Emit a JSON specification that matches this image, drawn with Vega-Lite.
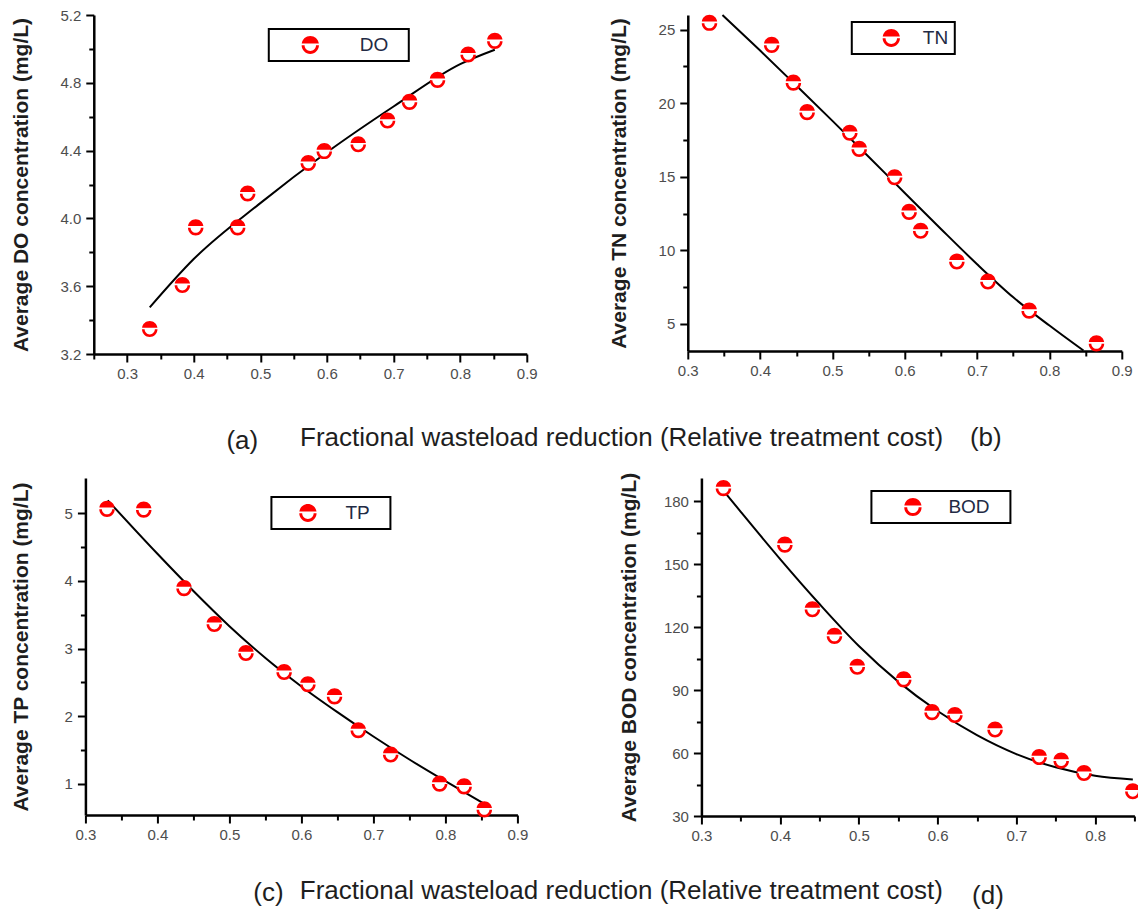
{
  "$schema": "https://vega.github.io/schema/vega-lite/v6.json",
  "padding": {"left": 10, "top": 8, "right": 0, "bottom": 0},
  "background": "#ffffff",
  "config": {
    "view": {"stroke": null},
    "font": "Liberation Sans",
    "axis": {
      "grid": false,
      "domainColor": "#000000",
      "domainWidth": 2.5,
      "tickColor": "#000000",
      "tickWidth": 2,
      "labelColor": "#4d4d4d",
      "labelFont": "Liberation Sans",
      "labelFontSize": 15,
      "labelOverlap": false,
      "labelFlush": false,
      "labelBound": false,
      "titleFont": "Liberation Sans",
      "titleFontSize": 21,
      "titleFontWeight": "bold",
      "titleColor": "#1e1e1e"
    },
    "legend": {"strokeWidth": 2},
    "title": {"font": "Liberation Sans", "fontWeight": "normal", "color": "#1e1e1e"}
  },
  "datasets": {
    "do_pts": [
      {"series": "DO", "x": 0.334, "y": 3.35}, {"series": "DO", "x": 0.383, "y": 3.61}, {"series": "DO", "x": 0.403, "y": 3.95},
      {"series": "DO", "x": 0.466, "y": 3.95}, {"series": "DO", "x": 0.481, "y": 4.15}, {"series": "DO", "x": 0.572, "y": 4.33},
      {"series": "DO", "x": 0.596, "y": 4.40}, {"series": "DO", "x": 0.647, "y": 4.44}, {"series": "DO", "x": 0.691, "y": 4.58},
      {"series": "DO", "x": 0.724, "y": 4.69}, {"series": "DO", "x": 0.766, "y": 4.82}, {"series": "DO", "x": 0.812, "y": 4.97},
      {"series": "DO", "x": 0.852, "y": 5.05}
    ],
    "do_fit": [
      {"x": 0.334, "y": 3.475}, {"x": 0.4, "y": 3.76}, {"x": 0.5, "y": 4.09}, {"x": 0.6, "y": 4.39},
      {"x": 0.7, "y": 4.66}, {"x": 0.8, "y": 4.91}, {"x": 0.852, "y": 4.995}
    ],
    "tn_pts": [
      {"series": "TN", "x": 0.330, "y": 25.5}, {"series": "TN", "x": 0.416, "y": 24.0}, {"series": "TN", "x": 0.446, "y": 21.43},
      {"series": "TN", "x": 0.465, "y": 19.43}, {"series": "TN", "x": 0.524, "y": 18.02}, {"series": "TN", "x": 0.537, "y": 16.93},
      {"series": "TN", "x": 0.586, "y": 15.0}, {"series": "TN", "x": 0.606, "y": 12.64}, {"series": "TN", "x": 0.622, "y": 11.36},
      {"series": "TN", "x": 0.672, "y": 9.27}, {"series": "TN", "x": 0.715, "y": 7.91}, {"series": "TN", "x": 0.772, "y": 5.93},
      {"series": "TN", "x": 0.865, "y": 3.70}
    ],
    "tn_fit": [
      {"x": 0.348, "y": 26.0}, {"x": 0.4, "y": 23.58}, {"x": 0.45, "y": 21.2}, {"x": 0.5, "y": 18.8},
      {"x": 0.55, "y": 16.36}, {"x": 0.6, "y": 13.9}, {"x": 0.65, "y": 11.45}, {"x": 0.7, "y": 9.05},
      {"x": 0.75, "y": 6.8}, {"x": 0.8, "y": 4.88}, {"x": 0.847, "y": 3.18}
    ],
    "tp_pts": [
      {"series": "TP", "x": 0.330, "y": 5.07}, {"series": "TP", "x": 0.381, "y": 5.06}, {"series": "TP", "x": 0.437, "y": 3.90},
      {"series": "TP", "x": 0.479, "y": 3.37}, {"series": "TP", "x": 0.523, "y": 2.94}, {"series": "TP", "x": 0.576, "y": 2.66},
      {"series": "TP", "x": 0.609, "y": 2.48}, {"series": "TP", "x": 0.646, "y": 2.30}, {"series": "TP", "x": 0.679, "y": 1.80},
      {"series": "TP", "x": 0.724, "y": 1.44}, {"series": "TP", "x": 0.792, "y": 1.01}, {"series": "TP", "x": 0.826, "y": 0.97},
      {"series": "TP", "x": 0.854, "y": 0.63}
    ],
    "tp_fit": [
      {"x": 0.331, "y": 5.19}, {"x": 0.4, "y": 4.40}, {"x": 0.45, "y": 3.85}, {"x": 0.5, "y": 3.33},
      {"x": 0.55, "y": 2.86}, {"x": 0.6, "y": 2.44}, {"x": 0.65, "y": 2.06}, {"x": 0.7, "y": 1.70},
      {"x": 0.75, "y": 1.36}, {"x": 0.8, "y": 1.04}, {"x": 0.855, "y": 0.70}
    ],
    "bod_pts": [
      {"series": "BOD", "x": 0.328, "y": 186.4}, {"series": "BOD", "x": 0.406, "y": 159.5}, {"series": "BOD", "x": 0.441, "y": 128.7},
      {"series": "BOD", "x": 0.469, "y": 116.0}, {"series": "BOD", "x": 0.498, "y": 101.3}, {"series": "BOD", "x": 0.557, "y": 95.3},
      {"series": "BOD", "x": 0.593, "y": 79.7}, {"series": "BOD", "x": 0.622, "y": 78.3}, {"series": "BOD", "x": 0.673, "y": 71.4},
      {"series": "BOD", "x": 0.729, "y": 58.3}, {"series": "BOD", "x": 0.757, "y": 56.6}, {"series": "BOD", "x": 0.786, "y": 50.7},
      {"series": "BOD", "x": 0.848, "y": 42.0}
    ],
    "bod_fit": [
      {"x": 0.329, "y": 184.5}, {"x": 0.35, "y": 174.9}, {"x": 0.4, "y": 152.4}, {"x": 0.45, "y": 131.0},
      {"x": 0.5, "y": 111.0}, {"x": 0.55, "y": 94.0}, {"x": 0.6, "y": 80.0}, {"x": 0.65, "y": 68.5},
      {"x": 0.7, "y": 59.5}, {"x": 0.75, "y": 53.2}, {"x": 0.8, "y": 49.2}, {"x": 0.848, "y": 47.4}
    ]
  },
  "center": true,
  "spacing": 18,
  "resolve": {"scale": {"color": "independent"}, "legend": {"color": "independent"}},
  "vconcat": [
    {
      "spacing": 70,
      "resolve": {"scale": {"color": "independent"}, "legend": {"color": "independent"}},
      "title": {"text": "Fractional wasteload reduction (Relative treatment cost)", "orient": "bottom", "anchor": "middle", "fontSize": 26, "dx": 50, "offset": -29},
      "hconcat": [
        {
          "width": 433, "height": 339,
          "title": {"text": "(a)", "orient": "bottom", "anchor": "middle", "frame": "group", "dx": -68, "offset": 47, "fontSize": 26},
          "resolve": {"scale": {"x": "independent", "y": "independent"}, "axis": {"x": "independent", "y": "independent"}},
          "layer": [
            {"data": {"name": "do_fit"}, "mark": {"type": "line", "color": "#000000", "strokeWidth": 2, "interpolate": "monotone"},
              "encoding": {
                "x": {"field": "x", "type": "quantitative", "scale": {"domain": [0.25, 0.9], "nice": false, "zero": false},
                  "axis": {"orient": "bottom", "title": null, "values": [0.3,0.4,0.5,0.6,0.7,0.8,0.9], "format": ".1f", "tickSize": 8, "labelPadding": 4}},
                "y": {"field": "y", "type": "quantitative", "scale": {"domain": [3.2, 5.2], "nice": false, "zero": false},
                  "axis": {"orient": "left", "title": "Average DO concentration (mg/L)", "values": [3.2,3.6,4.0,4.4,4.8,5.2], "format": ".1f", "tickSize": 8, "labelPadding": 5, "titlePadding": 28}}
              }},
            {"data": {"name": "do_pts"}, "mark": {"type": "point", "shape": "circle", "filled": true, "color": "#ffffff", "size": 170, "opacity": 1},
              "encoding": {
                "x": {"field": "x", "type": "quantitative", "scale": {"domain": [0.25, 0.9], "nice": false, "zero": false},
                  "axis": {"orient": "bottom", "title": null, "values": [0.25,0.35,0.45,0.55,0.65,0.75,0.85], "labels": false, "domain": false, "tickSize": 5}},
                "y": {"field": "y", "type": "quantitative", "scale": {"domain": [3.2, 5.2], "nice": false, "zero": false},
                  "axis": {"orient": "left", "title": null, "values": [3.4,3.8,4.2,4.6,5.0], "labels": false, "domain": false, "tickSize": 5}}
              }},
            {"data": {"name": "do_pts"}, "mark": {"type": "point", "shape": "M-0.99,-0.12A1,1 0 0,1 0.99,-0.12Z M-1,0.1L-0.66,0.1A0.66,0.66 0 0,0 0.66,0.1L1,0.1A1,1 0 0,1 -1,0.1Z", "filled": true, "size": 240, "opacity": 1, "strokeWidth": 0},
              "encoding": {
                "x": {"field": "x", "type": "quantitative", "scale": {"domain": [0.25, 0.9], "nice": false, "zero": false}, "axis": null},
                "y": {"field": "y", "type": "quantitative", "scale": {"domain": [3.2, 5.2], "nice": false, "zero": false}, "axis": null},
                "color": {"field": "series", "type": "nominal", "scale": {"range": ["#ff0000"]},
                "legend": {"title": null, "orient": "none", "legendX": 175, "legendY": 14, "padding": 6,
                  "symbolType": "M-0.99,-0.12A1,1 0 0,1 0.99,-0.12Z M-1,0.1L-0.66,0.1A0.66,0.66 0 0,0 0.66,0.1L1,0.1A1,1 0 0,1 -1,0.1Z",
                  "symbolSize": 300, "symbolFillColor": "#ff0000", "symbolStrokeWidth": 0, "symbolOpacity": 1, "symbolOffset": 26, "labelOffset": 40,
                  "labelFontSize": 19, "labelColor": "#222a44", "labelFont": "Liberation Sans", "strokeColor": "#000000", "fillColor": "#ffffff",
                  "labelExpr": "datum.label + '\u2800'"}}}}
          ]
        },
        {
          "width": 434, "height": 336,
          "title": {"text": "(b)", "orient": "bottom", "anchor": "middle", "frame": "group", "dx": 81, "offset": 47, "fontSize": 26},
          "resolve": {"scale": {"x": "independent", "y": "independent"}, "axis": {"x": "independent", "y": "independent"}},
          "layer": [
            {"data": {"name": "tn_fit"}, "mark": {"type": "line", "color": "#000000", "strokeWidth": 2, "interpolate": "monotone"},
              "encoding": {
                "x": {"field": "x", "type": "quantitative", "scale": {"domain": [0.3, 0.9], "nice": false, "zero": false},
                  "axis": {"orient": "bottom", "title": null, "values": [0.3,0.4,0.5,0.6,0.7,0.8,0.9], "format": ".1f", "tickSize": 8, "labelPadding": 4}},
                "y": {"field": "y", "type": "quantitative", "scale": {"domain": [3.15, 26], "nice": false, "zero": false},
                  "axis": {"orient": "left", "title": "Average TN concentration (mg/L)", "values": [5,10,15,20,25], "format": "d", "tickSize": 8, "labelPadding": 5, "titlePadding": 29}}
              }},
            {"data": {"name": "tn_pts"}, "mark": {"type": "point", "shape": "circle", "filled": true, "color": "#ffffff", "size": 170, "opacity": 1},
              "encoding": {
                "x": {"field": "x", "type": "quantitative", "scale": {"domain": [0.3, 0.9], "nice": false, "zero": false},
                  "axis": {"orient": "bottom", "title": null, "values": [0.35,0.45,0.55,0.65,0.75,0.85], "labels": false, "domain": false, "tickSize": 5}},
                "y": {"field": "y", "type": "quantitative", "scale": {"domain": [3.15, 26], "nice": false, "zero": false},
                  "axis": {"orient": "left", "title": null, "values": [7.5,12.5,17.5,22.5], "labels": false, "domain": false, "tickSize": 5}}
              }},
            {"data": {"name": "tn_pts"}, "mark": {"type": "point", "shape": "M-0.99,-0.12A1,1 0 0,1 0.99,-0.12Z M-1,0.1L-0.66,0.1A0.66,0.66 0 0,0 0.66,0.1L1,0.1A1,1 0 0,1 -1,0.1Z", "filled": true, "size": 240, "opacity": 1, "strokeWidth": 0},
              "encoding": {
                "x": {"field": "x", "type": "quantitative", "scale": {"domain": [0.3, 0.9], "nice": false, "zero": false}, "axis": null},
                "y": {"field": "y", "type": "quantitative", "scale": {"domain": [3.15, 26], "nice": false, "zero": false}, "axis": null},
                "color": {"field": "series", "type": "nominal", "scale": {"range": ["#ff0000"]},
                "legend": {"title": null, "orient": "none", "legendX": 164, "legendY": 7, "padding": 6,
                  "symbolType": "M-0.99,-0.12A1,1 0 0,1 0.99,-0.12Z M-1,0.1L-0.66,0.1A0.66,0.66 0 0,0 0.66,0.1L1,0.1A1,1 0 0,1 -1,0.1Z",
                  "symbolSize": 300, "symbolFillColor": "#ff0000", "symbolStrokeWidth": 0, "symbolOpacity": 1, "symbolOffset": 24, "labelOffset": 22,
                  "labelFontSize": 19, "labelColor": "#222a44", "labelFont": "Liberation Sans", "strokeColor": "#000000", "fillColor": "#ffffff"}}}}
          ]
        }
      ]
    },
    {
      "spacing": 89,
      "resolve": {"scale": {"color": "independent"}, "legend": {"color": "independent"}},
      "title": {"text": "Fractional wasteload reduction (Relative treatment cost)", "orient": "bottom", "anchor": "middle", "fontSize": 26, "dx": 46, "offset": -31},
      "hconcat": [
        {
          "width": 432, "height": 337,
          "title": {"text": "(c)", "orient": "bottom", "anchor": "middle", "frame": "group", "dx": -33, "offset": 38, "fontSize": 26},
          "resolve": {"scale": {"x": "independent", "y": "independent"}, "axis": {"x": "independent", "y": "independent"}},
          "layer": [
            {"data": {"name": "tp_fit"}, "mark": {"type": "line", "color": "#000000", "strokeWidth": 2, "interpolate": "monotone"},
              "encoding": {
                "x": {"field": "x", "type": "quantitative", "scale": {"domain": [0.3, 0.9], "nice": false, "zero": false},
                  "axis": {"orient": "bottom", "title": null, "values": [0.3,0.4,0.5,0.6,0.7,0.8,0.9], "format": ".1f", "tickSize": 8, "labelPadding": 4}},
                "y": {"field": "y", "type": "quantitative", "scale": {"domain": [0.54, 5.52], "nice": false, "zero": false},
                  "axis": {"orient": "left", "title": "Average TP concentration (mg/L)", "values": [1,2,3,4,5], "format": "d", "tickSize": 8, "labelPadding": 5, "titlePadding": 33}}
              }},
            {"data": {"name": "tp_pts"}, "mark": {"type": "point", "shape": "circle", "filled": true, "color": "#ffffff", "size": 170, "opacity": 1},
              "encoding": {
                "x": {"field": "x", "type": "quantitative", "scale": {"domain": [0.3, 0.9], "nice": false, "zero": false},
                  "axis": {"orient": "bottom", "title": null, "values": [0.35,0.45,0.55,0.65,0.75,0.85], "labels": false, "domain": false, "tickSize": 5}},
                "y": {"field": "y", "type": "quantitative", "scale": {"domain": [0.54, 5.52], "nice": false, "zero": false},
                  "axis": {"orient": "left", "title": null, "values": [1.5,2.5,3.5,4.5], "labels": false, "domain": false, "tickSize": 5}}
              }},
            {"data": {"name": "tp_pts"}, "mark": {"type": "point", "shape": "M-0.99,-0.12A1,1 0 0,1 0.99,-0.12Z M-1,0.1L-0.66,0.1A0.66,0.66 0 0,0 0.66,0.1L1,0.1A1,1 0 0,1 -1,0.1Z", "filled": true, "size": 240, "opacity": 1, "strokeWidth": 0},
              "encoding": {
                "x": {"field": "x", "type": "quantitative", "scale": {"domain": [0.3, 0.9], "nice": false, "zero": false}, "axis": null},
                "y": {"field": "y", "type": "quantitative", "scale": {"domain": [0.54, 5.52], "nice": false, "zero": false}, "axis": null},
                "color": {"field": "series", "type": "nominal", "scale": {"range": ["#ff0000"]},
                "legend": {"title": null, "orient": "none", "legendX": 186, "legendY": 19, "padding": 6,
                  "symbolType": "M-0.99,-0.12A1,1 0 0,1 0.99,-0.12Z M-1,0.1L-0.66,0.1A0.66,0.66 0 0,0 0.66,0.1L1,0.1A1,1 0 0,1 -1,0.1Z",
                  "symbolSize": 300, "symbolFillColor": "#ff0000", "symbolStrokeWidth": 0, "symbolOpacity": 1, "symbolOffset": 21, "labelOffset": 28,
                  "labelFontSize": 19, "labelColor": "#222a44", "labelFont": "Liberation Sans", "strokeColor": "#000000", "fillColor": "#ffffff",
                  "labelExpr": "datum.label + '\u2800'"}}}}
          ]
        },
        {
          "width": 433, "height": 338,
          "title": {"text": "(d)", "orient": "bottom", "anchor": "middle", "frame": "group", "dx": 70, "offset": 40, "fontSize": 26},
          "resolve": {"scale": {"x": "independent", "y": "independent"}, "axis": {"x": "independent", "y": "independent"}},
          "layer": [
            {"data": {"name": "bod_fit"}, "mark": {"type": "line", "color": "#000000", "strokeWidth": 2, "interpolate": "monotone"},
              "encoding": {
                "x": {"field": "x", "type": "quantitative", "scale": {"domain": [0.3, 0.85], "nice": false, "zero": false},
                  "axis": {"orient": "bottom", "title": null, "values": [0.3,0.4,0.5,0.6,0.7,0.8], "format": ".1f", "tickSize": 8, "labelPadding": 4}},
                "y": {"field": "y", "type": "quantitative", "scale": {"domain": [30, 191], "nice": false, "zero": false},
                  "axis": {"orient": "left", "title": "Average BOD concentration (mg/L)", "values": [30,60,90,120,150,180], "format": "d", "tickSize": 8, "labelPadding": 5, "titlePadding": 24}}
              }},
            {"data": {"name": "bod_pts"}, "mark": {"type": "point", "shape": "circle", "filled": true, "color": "#ffffff", "size": 170, "opacity": 1},
              "encoding": {
                "x": {"field": "x", "type": "quantitative", "scale": {"domain": [0.3, 0.85], "nice": false, "zero": false},
                  "axis": {"orient": "bottom", "title": null, "values": [0.35,0.45,0.55,0.65,0.75,0.85], "labels": false, "domain": false, "tickSize": 5}},
                "y": {"field": "y", "type": "quantitative", "scale": {"domain": [30, 191], "nice": false, "zero": false},
                  "axis": {"orient": "left", "title": null, "values": [45,75,105,135,165], "labels": false, "domain": false, "tickSize": 5}}
              }},
            {"data": {"name": "bod_pts"}, "mark": {"type": "point", "shape": "M-0.99,-0.12A1,1 0 0,1 0.99,-0.12Z M-1,0.1L-0.66,0.1A0.66,0.66 0 0,0 0.66,0.1L1,0.1A1,1 0 0,1 -1,0.1Z", "filled": true, "size": 240, "opacity": 1, "strokeWidth": 0},
              "encoding": {
                "x": {"field": "x", "type": "quantitative", "scale": {"domain": [0.3, 0.85], "nice": false, "zero": false}, "axis": null},
                "y": {"field": "y", "type": "quantitative", "scale": {"domain": [30, 191], "nice": false, "zero": false}, "axis": null},
                "color": {"field": "series", "type": "nominal", "scale": {"range": ["#ff0000"]},
                "legend": {"title": null, "orient": "none", "legendX": 170, "legendY": 13, "padding": 6,
                  "symbolType": "M-0.99,-0.12A1,1 0 0,1 0.99,-0.12Z M-1,0.1L-0.66,0.1A0.66,0.66 0 0,0 0.66,0.1L1,0.1A1,1 0 0,1 -1,0.1Z",
                  "symbolSize": 300, "symbolFillColor": "#ff0000", "symbolStrokeWidth": 0, "symbolOpacity": 1, "symbolOffset": 26, "labelOffset": 26,
                  "labelFontSize": 19, "labelColor": "#222a44", "labelFont": "Liberation Sans", "strokeColor": "#000000", "fillColor": "#ffffff",
                  "labelExpr": "datum.label + '\u2800'"}}}}
          ]
        }
      ]
    }
  ]
}
